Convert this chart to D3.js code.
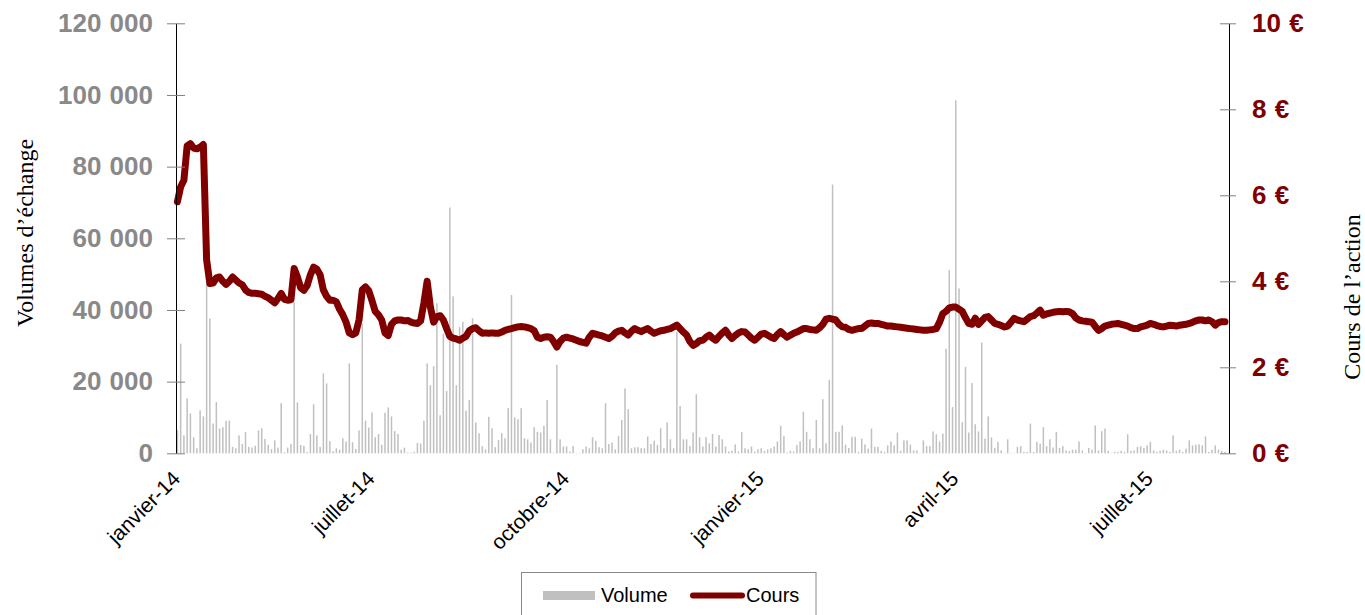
<!DOCTYPE html>
<html><head><meta charset="utf-8">
<script src="https://cdn.jsdelivr.net/npm/d3@7"></script>
<style>body{margin:0;background:#fff} svg{display:block}</style>
</head><body>
<svg id="chart" width="1365" height="615"></svg>
<script>
// Daily traded volumes (shares), one per trading session shown
const volume = [
6400,30600,5000,15300,11100,4500,1400,12000,10300,47400,
37600,8300,14300,6900,7300,9100,9100,1800,1400,5000,
2600,5900,1800,1600,2100,6400,7000,4000,2400,1200,
3600,1600,14000,300,1600,2600,42200,14200,2300,2100,
400,5400,13700,5000,1800,22300,19500,3400,600,1400,
1000,4200,3300,25100,3100,1200,6400,36200,9100,7200,
11400,4500,5400,2400,11300,12800,10300,6200,5400,1000,
1600,200,200,400,2900,2700,9100,25100,19000,24300,
41900,10600,33400,17400,68600,43800,19000,35200,36700,11900,
14900,37700,8600,5600,2000,1100,10200,7000,1700,3700,
5600,4200,12600,44200,10000,9500,12600,4200,3900,3000,
7300,6000,5800,7600,14900,3900,200,24700,3900,1900,
1900,500,2000,100,100,1100,1900,1400,4500,3500,
1700,1400,14000,2600,3000,1100,4800,9300,18100,12300,
1400,1700,1700,1400,1400,4700,2600,3500,2300,7000,
1400,8600,3900,1400,34000,13200,3900,3900,2000,5800,
16500,4500,1900,4500,2800,5400,1900,5100,3900,1900,
500,700,2500,500,5900,1400,1100,1900,500,1100,
1400,700,1100,1400,1900,3300,7700,4800,200,700,
500,2300,3300,11600,6000,3900,1400,9300,1400,15100,
2800,20500,75000,6000,6000,7800,2400,1500,4600,4600,
400,4100,2500,1300,6900,1800,1800,700,400,2200,
3300,2200,5800,700,3600,3600,2400,800,800,100,
3600,2000,2000,6100,5300,3300,5500,29200,51100,12900,
98500,46000,8700,24100,5800,19600,8100,6100,30900,4100,
10300,4400,1500,3200,800,100,3900,100,100,1800,
2000,400,400,8300,400,3200,2700,7300,2000,3900,
1600,6000,1500,2000,800,600,1000,1000,3300,800,
100,1500,1000,7800,800,6200,6900,700,100,400,
400,700,400,5300,700,800,1800,2000,1500,2200,
3200,800,400,700,1000,800,400,5000,700,1000,
400,1300,3600,2200,2400,2500,2200,4700,400,1000,
2200,1000,700,400
];

// Closing share price (€), same sessions
const price = [
5.85,6.2,6.35,7.15,7.2,7.1,7.08,7.12,7.18,4.5,
3.95,3.96,4.08,4.1,4.0,3.93,4.0,4.1,4.03,3.96,
3.92,3.8,3.74,3.72,3.72,3.71,3.7,3.65,3.62,3.56,
3.5,3.6,3.72,3.58,3.56,3.57,4.3,4.1,3.85,3.79,
3.9,4.15,4.33,4.28,4.15,3.8,3.65,3.56,3.56,3.52,
3.35,3.22,3.05,2.8,2.76,2.8,3.1,3.8,3.87,3.78,
3.55,3.3,3.22,3.1,2.8,2.74,3.0,3.08,3.1,3.1,
3.08,3.09,3.05,3.03,3.02,3.08,3.5,4.0,3.4,3.05,
3.18,3.2,3.1,2.9,2.72,2.68,2.66,2.63,2.68,2.72,
2.85,2.9,2.92,2.85,2.79,2.8,2.79,2.8,2.79,2.79,
2.82,2.86,2.88,2.9,2.92,2.94,2.95,2.94,2.92,2.9,
2.85,2.7,2.67,2.7,2.71,2.7,2.6,2.47,2.6,2.68,
2.7,2.68,2.66,2.63,2.6,2.58,2.56,2.7,2.79,2.77,
2.75,2.73,2.7,2.67,2.72,2.8,2.84,2.86,2.8,2.75,
2.84,2.9,2.86,2.83,2.87,2.9,2.84,2.79,2.82,2.85,
2.86,2.88,2.9,2.94,2.98,2.9,2.82,2.75,2.6,2.51,
2.55,2.62,2.63,2.7,2.75,2.68,2.63,2.72,2.8,2.86,
2.75,2.67,2.74,2.8,2.83,2.82,2.75,2.68,2.63,2.7,
2.77,2.79,2.75,2.7,2.67,2.76,2.83,2.76,2.7,2.75,
2.79,2.82,2.86,2.9,2.9,2.88,2.87,2.86,2.92,3.0,
3.12,3.14,3.12,3.1,3.0,2.94,2.93,2.88,2.86,2.88,
2.9,2.9,2.96,3.02,3.03,3.02,3.02,3.0,2.98,2.96,
2.96,2.95,2.94,2.93,2.92,2.91,2.9,2.89,2.88,2.87,
2.86,2.86,2.87,2.88,2.9,3.05,3.25,3.3,3.38,3.4,
3.4,3.35,3.3,3.15,3.02,3.0,3.14,3.0,3.08,3.16,
3.18,3.1,3.02,3.0,2.97,2.94,2.96,3.05,3.14,3.1,
3.08,3.06,3.12,3.18,3.2,3.26,3.33,3.21,3.24,3.26,
3.28,3.29,3.3,3.29,3.3,3.29,3.25,3.15,3.1,3.08,
3.07,3.06,3.05,2.95,2.86,2.9,2.96,2.98,3.0,3.01,
3.02,3.0,2.98,2.96,2.92,2.9,2.9,2.94,2.96,2.98,
3.02,3.0,2.97,2.95,2.94,2.96,2.98,2.97,2.96,2.98,
2.99,3.0,3.02,3.05,3.08,3.1,3.1,3.08,3.1,3.06,
2.98,3.04,3.06,3.06
];

const tickLabels = ["janvier-14","juillet-14","octobre-14","janvier-15","avril-15","juillet-15"];
const tickIndex = [0,60,120,180,240,300];
const volTicks = [0,20000,40000,60000,80000,100000,120000];
const priceTicks = [0,2,4,6,8,10];
const seriesNames = ["Volume","Cours"];

const fr = d3.formatLocale({decimal:",", thousands:" ", grouping:[3], currency:["","\u00a0€"]});
const fmtVol = fr.format(",.0f");

const svg = d3.select("#chart");
const N = price.length;
const x = d3.scaleBand().domain(d3.range(N)).range([175.8, 1226.6]);
const cx = i => x(i) + x.bandwidth() / 2;
const yV = d3.scaleLinear().domain([0, 120000]).range([453.3, 23.3]);
const yP = d3.scaleLinear().domain([0, 10]).range([453.3, 23.3]);

const axisFont = sel => sel
  .style("font-family", "'Liberation Sans', Arial, sans-serif")
  .style("font-weight", "bold").style("font-size", "26px").style("word-spacing", "1px");

// volume bars
svg.append("g").selectAll("rect").data(volume).join("rect")
  .attr("x", (d, i) => cx(i) - 0.75)
  .attr("width", 1.5)
  .attr("y", d => yV(d))
  .attr("height", d => yV(0) - yV(d))
  .attr("fill", "#c0c0c0");

// price line
svg.append("path").datum(price)
  .attr("fill", "none")
  .attr("stroke", "#800000")
  .attr("stroke-width", 7)
  .attr("stroke-linejoin", "round")
  .attr("stroke-linecap", "round")
  .attr("d", d3.line().x((d, i) => cx(i)).y(d => yP(d)));

// left axis
const gL = svg.append("g").attr("transform", "translate(176,0)")
  .call(d3.axisLeft(yV).tickValues(volTicks).tickFormat(fmtVol).tickSize(9).tickSizeOuter(0).tickPadding(14));
gL.select(".domain").attr("stroke", "#000");
gL.selectAll(".tick line").attr("x1", 9).attr("x2", -9).attr("stroke", "#808080");
gL.selectAll(".tick text").attr("fill", "#898989").call(axisFont);

// right axis
const gR = svg.append("g").attr("transform", "translate(1229,0)")
  .call(d3.axisRight(yP).tickValues(priceTicks).tickFormat(d => d + " €").tickSize(7).tickSizeOuter(0).tickPadding(16));
gR.select(".domain").attr("stroke", "#000");
gR.selectAll(".tick line").attr("x1", -9).attr("x2", 7).attr("stroke", "#808080");
gR.selectAll(".tick text").attr("fill", "#800000").call(axisFont);

// x labels
svg.append("g").selectAll("text").data(tickIndex).join("text")
  .attr("transform", d => `translate(${cx(d) + 4},480) rotate(-45)`)
  .attr("text-anchor", "end")
  .style("font-family", "'Liberation Sans', Arial, sans-serif")
  .style("font-size", "21px")
  .attr("fill", "#000")
  .text((d, i) => tickLabels[i]);

// axis titles
svg.append("text").attr("transform", "translate(33,233) rotate(-90)")
  .attr("text-anchor", "middle")
  .style("font-family", "'Liberation Serif', 'Times New Roman', serif").style("font-size", "24px")
  .text("Volumes d’échange");
svg.append("text").attr("transform", "translate(1360,297) rotate(-90)")
  .attr("text-anchor", "middle")
  .style("font-family", "'Liberation Serif', 'Times New Roman', serif").style("font-size", "24px")
  .text("Cours de l’action");

// legend
const lg = svg.append("g");
lg.append("rect").attr("x", 521.5).attr("y", 572.5).attr("width", 294.5).attr("height", 60)
  .attr("fill", "#fff").attr("stroke", "#888");
lg.append("rect").attr("x", 543).attr("y", 591).attr("width", 52).attr("height", 9).attr("fill", "#c0c0c0");
lg.append("text").attr("x", 601).attr("y", 602)
  .style("font-family", "'Liberation Sans', Arial, sans-serif").style("font-size", "20px")
  .text(seriesNames[0]);
lg.append("line").attr("x1", 693).attr("x2", 742).attr("y1", 595.5).attr("y2", 595.5)
  .attr("stroke", "#800000").attr("stroke-width", 6).attr("stroke-linecap", "round");
lg.append("text").attr("x", 746).attr("y", 602)
  .style("font-family", "'Liberation Sans', Arial, sans-serif").style("font-size", "20px")
  .text(seriesNames[1]);
</script>
</body></html>
